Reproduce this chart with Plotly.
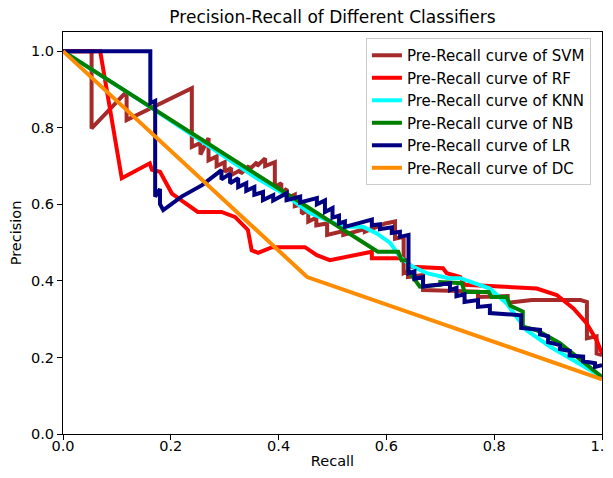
import plotly.graph_objects as go

# ---- data ----
svm_recall = [0, 0.053, 0.053, 0.118, 0.118, 0.239, 0.239,
              0.255, 0.255, 0.27, 0.27, 0.285, 0.285, 0.30, 0.30, 0.312, 0.312, 0.33, 0.33,
              0.345, 0.345, 0.36, 0.36, 0.375, 0.375, 0.393, 0.393, 0.405, 0.405, 0.415, 0.415,
              0.43, 0.43, 0.443, 0.443, 0.455, 0.455, 0.47, 0.47, 0.49, 0.49,
              0.52, 0.52, 0.56, 0.56,
              0.598, 0.616, 0.616, 0.632, 0.632, 0.64, 0.64, 0.668, 0.668,
              0.77, 0.77, 0.825, 0.825, 0.87, 0.96, 0.972, 0.972, 0.99, 0.99, 1.0]
svm_precision = [1, 1, 0.798, 0.894, 0.82, 0.903, 0.75,
                 0.76, 0.73, 0.773, 0.715, 0.725, 0.70, 0.71, 0.685, 0.695, 0.676, 0.69, 0.68,
                 0.70, 0.69, 0.71, 0.70, 0.72, 0.70, 0.71, 0.645, 0.655, 0.63, 0.64, 0.615,
                 0.625, 0.595, 0.60, 0.575, 0.585, 0.555, 0.565, 0.545, 0.55, 0.52,
                 0.53, 0.52, 0.535, 0.528,
                 0.55, 0.555, 0.51, 0.515, 0.42, 0.425, 0.41, 0.415, 0.376,
                 0.372, 0.358, 0.36, 0.343, 0.35, 0.35, 0.345, 0.25, 0.255, 0.21, 0.206]

rf_recall = [0, 0.069, 0.109, 0.161, 0.165, 0.18, 0.202, 0.25, 0.294, 0.319, 0.343, 0.35, 0.362,
             0.388, 0.449, 0.471, 0.495, 0.573, 0.573, 0.631, 0.647, 0.705, 0.712, 0.737, 0.745,
             0.80, 0.879, 0.916, 0.947, 0.971, 0.99, 1.0]
rf_precision = [1, 1, 0.668, 0.707, 0.69, 0.685, 0.628, 0.58, 0.58, 0.567, 0.533, 0.48, 0.473,
                0.488, 0.488, 0.467, 0.454, 0.476, 0.459, 0.459, 0.437, 0.433, 0.42, 0.41, 0.39,
                0.386, 0.38, 0.363, 0.328, 0.29, 0.245, 0.21]

knn_recall = [0, 0.15, 0.254, 0.356, 0.408, 0.458, 0.52, 0.557, 0.582, 0.607, 0.625, 0.645,
              0.675, 0.715, 0.737, 0.792, 0.823, 0.86, 0.904, 0.947, 1.0]
knn_precision = [1, 0.865, 0.768, 0.671, 0.629, 0.577, 0.541, 0.541, 0.524, 0.499, 0.463, 0.44,
                 0.42, 0.407, 0.407, 0.38, 0.341, 0.271, 0.228, 0.193, 0.149]

nb_recall = [0, 0.584, 0.622, 0.628, 0.64, 0.64, 0.662, 0.70, 0.70, 0.74, 0.745, 0.79, 0.795,
             0.823, 0.83, 0.848, 0.853, 0.853, 0.879, 0.922, 1.0]
nb_precision = [1, 0.476, 0.476, 0.454, 0.454, 0.428, 0.385, 0.39, 0.397, 0.394, 0.371, 0.371,
                0.358, 0.358, 0.335, 0.324, 0.32, 0.28, 0.271, 0.237, 0.149]

lr_recall = [0, 0.162, 0.162, 0.171, 0.171, 0.18, 0.18, 0.186, 0.22, 0.258, 0.294,
             0.294, 0.31, 0.31, 0.325, 0.325, 0.34, 0.34, 0.355, 0.355, 0.371, 0.371, 0.39,
             0.39, 0.415, 0.415, 0.44, 0.44, 0.471, 0.471,
             0.486, 0.486,
             0.50, 0.50, 0.512, 0.512, 0.523, 0.523,
             0.573, 0.573, 0.588, 0.588, 0.61, 0.61, 0.625, 0.625, 0.641, 0.641,
             0.652, 0.652, 0.668, 0.668, 0.718, 0.718,
             0.73, 0.73, 0.745, 0.745, 0.77, 0.77, 0.792, 0.792,
             0.85, 0.85, 0.885, 0.885, 0.90, 0.90, 0.922, 0.922,
             0.94, 0.94, 0.965, 0.965, 0.987, 0.987, 1.0]
lr_precision = [1, 1, 0.864, 0.87, 0.62, 0.64, 0.60, 0.585, 0.62, 0.65, 0.689,
                0.665, 0.68, 0.655, 0.668, 0.645, 0.655, 0.635, 0.645, 0.625, 0.632, 0.611, 0.624,
                0.61, 0.629, 0.611, 0.62, 0.605, 0.616, 0.60,
                0.61, 0.58,
                0.59, 0.565, 0.57, 0.55, 0.555, 0.541,
                0.56, 0.545, 0.548, 0.535, 0.54, 0.525, 0.528, 0.515, 0.52, 0.42,
                0.425, 0.405, 0.41, 0.385, 0.394, 0.376,
                0.382, 0.36, 0.365, 0.345, 0.35, 0.332, 0.335, 0.316,
                0.31, 0.277, 0.272, 0.26, 0.255, 0.24, 0.232, 0.222,
                0.217, 0.205, 0.202, 0.19, 0.185, 0.175, 0.18]

dc_recall = [0, 0.453, 1.0]
dc_precision = [1, 0.41, 0.143]

series = [
    ("Pre-Recall curve of SVM", svm_recall, svm_precision, "#a52a2a"),
    ("Pre-Recall curve of RF", rf_recall, rf_precision, "#ff0000"),
    ("Pre-Recall curve of KNN", knn_recall, knn_precision, "#00ffff"),
    ("Pre-Recall curve of NB", nb_recall, nb_precision, "#008000"),
    ("Pre-Recall curve of LR", lr_recall, lr_precision, "#000080"),
    ("Pre-Recall curve of DC", dc_recall, dc_precision, "#ff8c00"),
]

x_ticks = [0.0, 0.2, 0.4, 0.6, 0.8, 1.0]
y_ticks = [0.0, 0.2, 0.4, 0.6, 0.8, 1.0]

FONT = "DejaVu Sans"

fig = go.Figure()
for name, xs, ys, col in series:
    fig.add_trace(go.Scatter(x=xs, y=ys, mode="lines", name=name, legendgroup=name,
                             line=dict(color=col, width=4)))

axis_common = dict(showgrid=False, zeroline=False, showline=True, linecolor="black",
                   linewidth=1, mirror=True, ticks="outside", ticklen=5, tickwidth=1,
                   tickcolor="black", automargin=False, ticklabeloverflow="allow",
                   tickfont=dict(family=FONT, size=14.5, color="black"))

# the page body has an 8px margin, so the figure is sized to fill the window from (8, 8)
fig.update_layout(
    width=605, height=470,
    margin=dict(l=55, r=11, t=24, b=44, autoexpand=False),
    paper_bgcolor="white", plot_bgcolor="white",
    font=dict(family=FONT, color="black"),
    title=dict(text="Precision-Recall of Different Classifiers", x=0.5, xref="paper",
               y=1 - 9 / 470, yanchor="middle", xanchor="center",
               font=dict(family=FONT, size=17, color="black")),
    xaxis=dict(range=[0, 1], tickvals=x_ticks, ticktext=[f"{v:.1f}" for v in x_ticks],
               ticklabelstandoff=-6,
               title=dict(text="Recall", font=dict(family=FONT, size=14.5), standoff=2),
               **axis_common),
    yaxis=dict(range=[0, 1.05], tickvals=y_ticks, ticktext=[f"{v:.1f}" for v in y_ticks],
               title=dict(text="Precision", font=dict(family=FONT, size=14.5), standoff=5),
               **axis_common),
    legend=dict(x=0.562, y=0.985, xanchor="left", yanchor="top",
                bgcolor="rgba(255,255,255,0.8)", bordercolor="#cccccc", borderwidth=1,
                font=dict(family=FONT, size=15, color="black"), tracegroupgap=0),
    showlegend=True,
)

fig.write_html("out.html")
